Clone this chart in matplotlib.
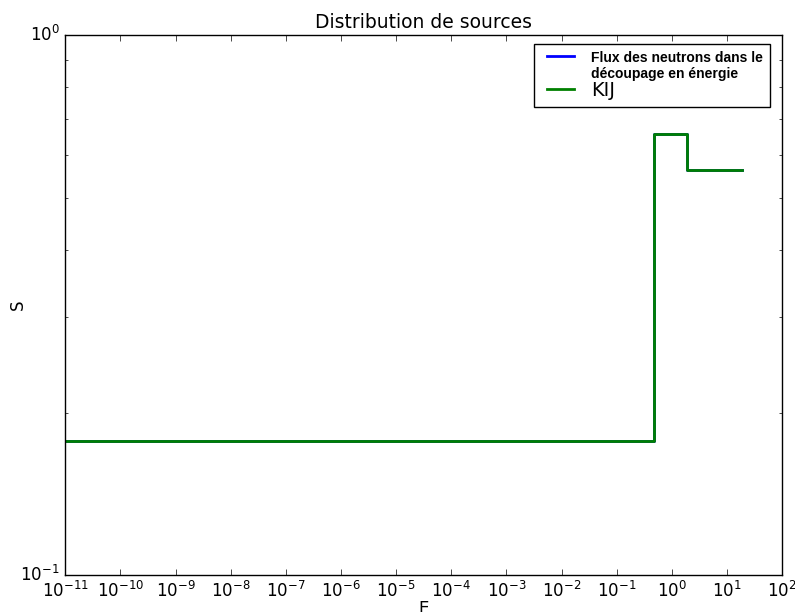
import numpy as np
import matplotlib
matplotlib.use("Agg")
import matplotlib.pyplot as plt

plt.style.use('classic')

# energy group boundaries and source values
energies = [1e-11, 0.48, 1.85, 19.0]
source = [0.177, 0.656, 0.562]
flux = [0.177, 0.656, 0.562]

fig = plt.figure(figsize=(7.95, 6.12), dpi=100)
fig.patch.set_facecolor('white')
ax = fig.add_subplot(111)
fig.subplots_adjust(left=0.082, right=0.984, bottom=0.06, top=0.943)

ax.step(energies, flux + [flux[-1]], where='post', color='blue', lw=2,
        label="Flux des neutrons dans le\ndécoupage en énergie")
ax.step(energies, source + [source[-1]], where='post', color='green', lw=2,
        label="KIJ")

ax.set_xscale('log')
ax.set_yscale('log')
ax.set_xlim(1e-11, 1e2)
ax.set_ylim(0.1, 1)
ax.set_xticks([10.0**k for k in range(-11, 3)])

ax.set_title("Distribution de sources", fontsize=13.5)
ax.set_xlabel("E")
ax.set_ylabel("S")
ax.xaxis.set_label_coords(0.5, -0.045)
ax.yaxis.set_label_coords(-0.054, 0.5)

leg = ax.legend(loc='upper right', bbox_to_anchor=(0.983, 0.983),
                borderaxespad=0, fontsize=14, handletextpad=0.6,
                handlelength=2.0, labelspacing=0.0, borderpad=0.35)
t0 = leg.get_texts()[0]
t0.set_fontsize(10)
t0.set_fontweight('bold')
t0.set_family('Liberation Sans')
# blue handle sits next to the first line of its label
h0 = leg.legend_handles[0]
h0.set_ydata(np.asarray(h0.get_ydata()) + 6.0)

fig.savefig("out.png", dpi=100, facecolor='white')
